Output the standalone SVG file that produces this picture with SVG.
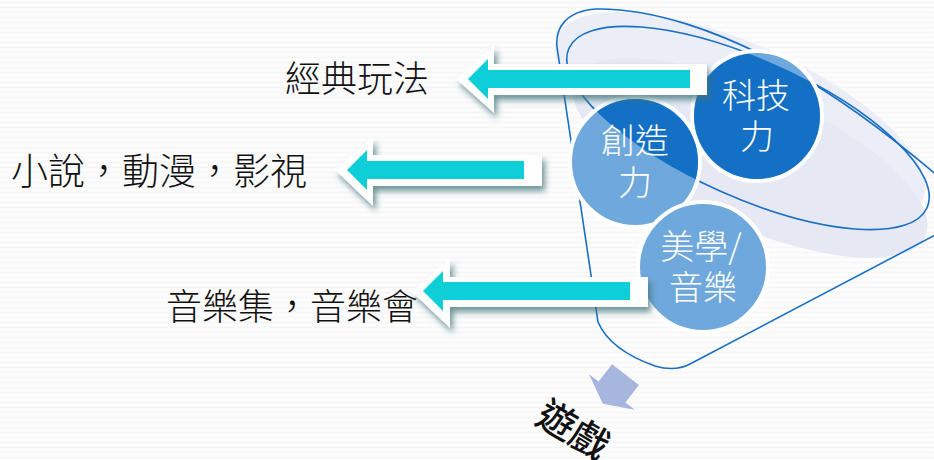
<svg xmlns="http://www.w3.org/2000/svg" width="934" height="460" viewBox="0 0 934 460">
  <defs>
    <pattern id="bgp" width="8" height="5" patternUnits="userSpaceOnUse">
      <path d="M0,3.5 L2,1.5 L4,3.5 L6,1.5 L8,3.5" fill="none" stroke="#ececec" stroke-width="0.8"/>
    </pattern>
    <filter id="sh" x="-20%" y="-40%" width="140%" height="200%">
      <feGaussianBlur in="SourceAlpha" stdDeviation="3"/>
      <feOffset dx="3" dy="5" result="b"/>
      <feFlood flood-color="#3f7278" flood-opacity="0.75"/>
      <feComposite in2="b" operator="in"/>
      <feMerge><feMergeNode/><feMergeNode in="SourceGraphic"/></feMerge>
    </filter>
    <clipPath id="mouth">
      <ellipse cx="748" cy="128" rx="196" ry="69" transform="rotate(24 748 128)"/>
    </clipPath>
    <style>
      .lbl{font-family:"Noto Sans CJK TC","Noto Sans CJK SC",sans-serif;fill:#111;font-size:36px;font-weight:300}
      .ct{font-family:"Noto Sans CJK TC","Noto Sans CJK SC",sans-serif;fill:#fff;font-size:34px;font-weight:300;text-anchor:middle}
      .rim{fill:none;stroke:#1a6fc4;stroke-width:1.6}
      .wht{fill:#fff;filter:url(#sh)}
      .cy{fill:#0ecfd7}
      .cl{fill:#6fa8dc;stroke:#fff;stroke-width:4}
      .cd{fill:#1470c5}
    </style>
  </defs>
  <rect width="934" height="460" fill="#fdfdfd"/>
  <rect width="934" height="460" fill="url(#bgp)"/>

  <g id="funnel">
    <ellipse cx="740" cy="118" rx="200" ry="74" transform="rotate(24 740 118)" fill="#eceef7"/>
    <ellipse cx="750" cy="158" rx="192" ry="68" transform="rotate(24 750 158)" fill="#e6e9f4"/>
    <ellipse cx="748" cy="128" rx="196" ry="69" transform="rotate(24 748 128)" fill="#e2e6f2" class="rim"/>
    <path class="rim" d="M598,322 L557,47 C555,28 566,11 596,9 C650,8 720,30 790,70 C840,98 890,135 945,182 L975,210 L960,222 L690,364 Q675,372 655,366 Q610,350 598,322 Z"/>
  </g>

  <g id="node-chuangzao">
    <circle class="cl" cx="635" cy="162" r="65"/>
    <circle class="cd" cx="635" cy="162" r="63" clip-path="url(#mouth)"/>
    <text class="ct"><tspan x="635" y="153">創造</tspan><tspan x="635" y="195">力</tspan></text>
  </g>
  <g id="node-keji">
    <circle class="cl" cx="757" cy="116" r="65"/>
    <circle class="cd" cx="757" cy="116" r="63" clip-path="url(#mouth)"/>
    <text class="ct"><tspan x="756" y="108">科技</tspan><tspan x="757" y="149">力</tspan></text>
  </g>
  <g id="node-meixue">
    <circle class="cl" cx="703" cy="267" r="65"/>
    <text class="ct"><tspan x="701" y="259">美學/</tspan><tspan x="703" y="300">音樂</tspan></text>
  </g>

  <g id="connectors">
    <path class="wht" d="M456,79 L494,45 L494,64 L707,64 L707,95 L494,95 L494,113 Z"/>
    <path class="cy" d="M468,79 L488,59 L488,70 L690,70 L690,88 L488,88 L488,99 Z"/>
    <path class="wht" d="M335,170 L373,137 L373,155 L542,155 L542,186 L373,186 L373,206 Z"/>
    <path class="cy" d="M347,170 L367,150 L367,161 L524,161 L524,179 L367,179 L367,190 Z"/>
    <path class="wht" d="M412,292 L450,258 L450,277 L648,277 L648,307 L450,307 L450,328 Z"/>
    <path class="cy" d="M423,291 L443,271 L443,282 L630,282 L630,300 L443,300 L443,311 Z"/>
    <path d="M602.8,403.8 L634.9,409.8 L625.4,402.4 L638.9,385 L612.1,364.2 L598.6,381.6 L589.1,374.2 Z" fill="#a7b6de"/>
  </g>

  <g id="node-label1"><text class="lbl" x="285" y="92">經典玩法</text></g>
  <g id="node-label2"><text class="lbl" x="11" y="185" style="font-size:37px">小說，動漫，影視</text></g>
  <g id="node-label3"><text class="lbl" x="166" y="320">音樂集，音樂會</text></g>
  <g id="node-game">
    <text class="lbl" transform="translate(557 420) rotate(31)" x="-19" y="14" style="font-size:38px;font-weight:500">遊戲</text>
  </g>
</svg>
